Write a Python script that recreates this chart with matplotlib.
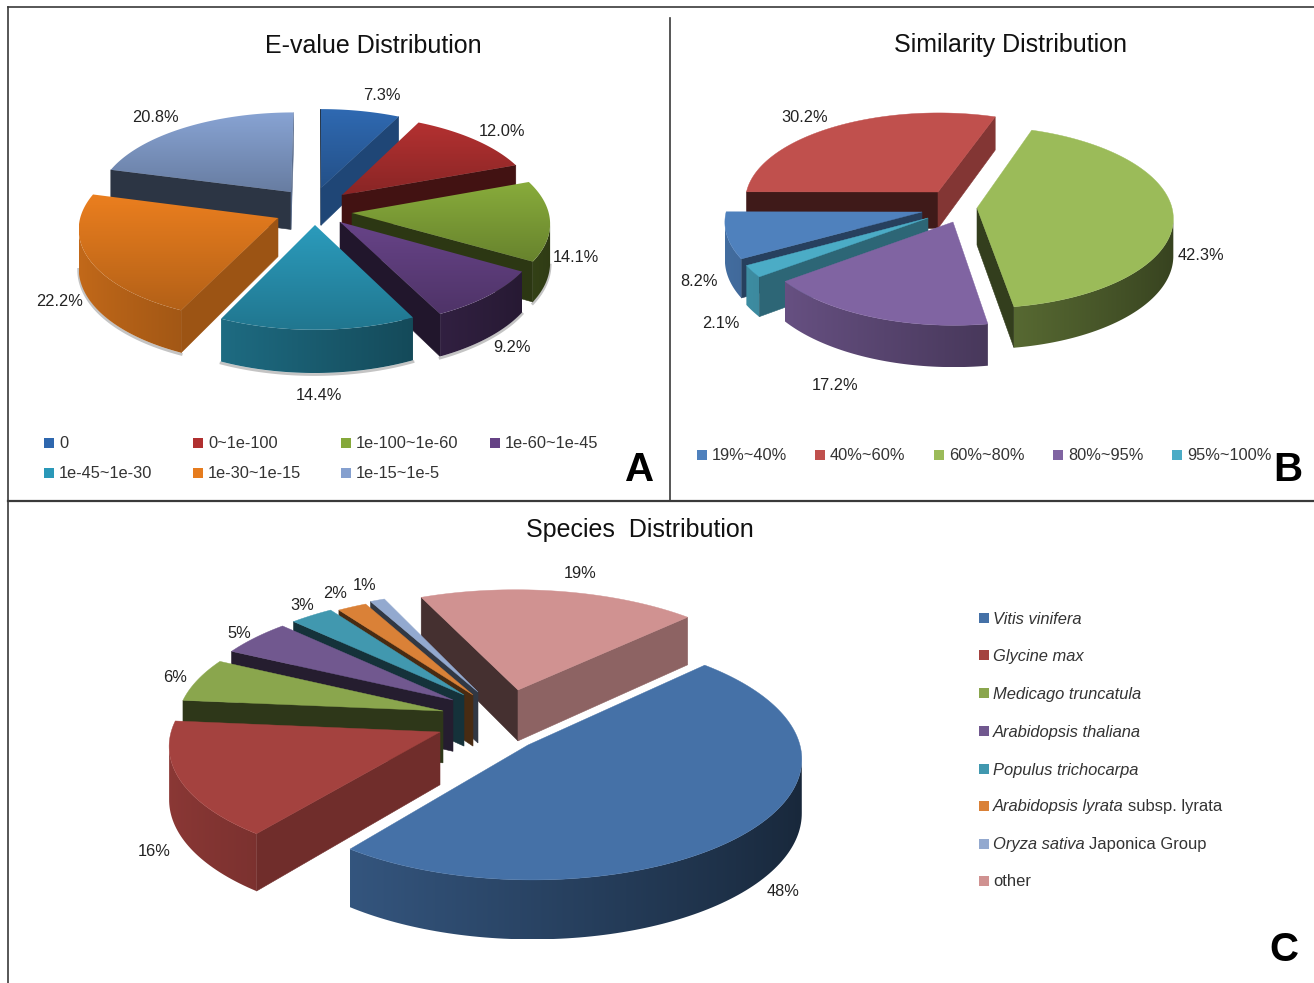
import numpy as np
import matplotlib
matplotlib.use("Agg")
import matplotlib.pyplot as plt
from matplotlib.colors import LinearSegmentedColormap, to_rgb
from matplotlib.patches import Polygon, Rectangle

plt.rcParams['font.family'] = ['Liberation Sans', 'DejaVu Sans']

# panel A
evalue_labels = ["0", "0~1e-100", "1e-100~1e-60", "1e-60~1e-45", "1e-45~1e-30", "1e-30~1e-15", "1e-15~1e-5"]
evalue_pct = [7.3, 12.0, 14.1, 9.2, 14.4, 22.2, 20.8]
evalue_colors = ["#2E67AE", "#B03030", "#85A83A", "#654285", "#2A98B8", "#E67C1E", "#85A0CF"]

# panel B
sim_labels = ["19%~40%", "40%~60%", "60%~80%", "80%~95%", "95%~100%"]
sim_pct = [8.2, 30.2, 42.3, 17.2, 2.1]
sim_colors = ["#4F81BD", "#C0504D", "#9BBB59", "#8064A2", "#4BACC6"]

# panel C
species_italic = ["Vitis vinifera", "Glycine max", "Medicago truncatula", "Arabidopsis thaliana",
                  "Populus trichocarpa", "Arabidopsis lyrata", "Oryza sativa", ""]
species_plain = ["", "", "", "", "", " subsp. lyrata", " Japonica Group", "other"]
species_pct = [48, 16, 6, 5, 3, 2, 1, 19]
species_colors = ["#4571A7", "#A4423F", "#8AA64D", "#71588F", "#4198AF", "#DA8137", "#93A9CF", "#D09291"]

# layout: how far each slice is pulled out, and where its label sits
offs_a = [(2, -17), (23, -10), (33, 8), (21, 17), (-4, 20), (-41, 13), (-28, -13)]
offs_b = [(-23, 4), (-7, -16), (32, 0), (8, 14), (-17, 10)]
offs_c = [(38, 30), (-50, 17), (-47, -4), (-37, -15), (-26, -20), (-17, -20), (-12, -23), (28, -25)]
pct_pos_a = [(382, 94), (502, 131), (576, 256), (512, 347), (319, 394), (60, 300), (155, 117)]
pct_pos_b = [(699, 281), (805, 116), (1201, 255), (835, 385), (721, 323)]
pct_pos_c = [(783, 891), (154, 851), (175, 677), (239, 633), (302, 605), (335, 593), (365, 584), (580, 573)]

fig = plt.figure(figsize=(13.14, 9.83), dpi=100)
ax = fig.add_axes([0, 0, 1, 1])
ax.set_xlim(0, 1314)
ax.set_ylim(983, 0)
ax.axis('off')
ax.set_autoscale_on(False)


def pie3d(pct, colors, offs, cx, cy, rx, ry, p, depth, start, gradient=False, shadow=False):
    def proj(u, v):
        s = 1 / (1 + p * v)
        return cx + rx * u * s, cy - ry * v * s, depth * s

    edges = start + np.cumsum([0] + list(pct)) / sum(pct) * 360
    mids = (edges[:-1] + edges[1:]) / 2
    order = np.argsort(-np.cos(np.radians(mids)))
    z = 2
    for i in order:
        base = np.array(to_rgb(colors[i]))
        dx, dy = offs[i]
        v0 = -dy / (ry + p * dy)
        u0 = dx * (1 + p * v0) / rx
        th = np.radians(np.linspace(edges[i], edges[i + 1], max(int(pct[i] * 3), 4) + 1))
        xr, yr, dr = proj(u0 + np.sin(th), v0 + np.cos(th))
        xa, ya, da = proj(u0, v0)

        # the two cut faces; each is only seen if it faces down the screen
        for k, sign in ((0, -1), (-1, 1)):
            if sign * (xr[k] - xa) > 0:
                nx = sign * np.cos(th[k])
                f = 0.33 + 0.35 * np.clip((nx - 0.3) / 0.4, 0, 1)
                ax.fill([xa, xr[k], xr[k], xa], [ya, yr[k], yr[k] + dr[k], ya + da],
                        color=base * f, lw=0.4, zorder=z)
        z += 1

        # rim: the part running right to left is the part facing us, darker to the right
        vis = np.nonzero(xr[1:] < xr[:-1])[0]
        if len(vis):
            a, b = vis[0], vis[-1] + 1
            xt, yt, dt, tt = xr[a:b + 1], yr[a:b + 1], dr[a:b + 1], th[a:b + 1]
            poly = np.r_[np.c_[xt, yt], np.c_[xt, yt + dt][::-1]]
            grid = np.linspace(xt.min(), xt.max(), 200)
            f = np.interp(grid, xt[::-1], (0.6 - 0.25 * np.sin(tt))[::-1])
            rgb = np.clip(base[None, None, :] * f[None, :, None], 0, 1)
            im = ax.imshow(rgb, extent=(xt.min(), xt.max(), poly[:, 1].max(), poly[:, 1].min()),
                           aspect='auto', zorder=z)
            im.set_clip_path(Polygon(poly, transform=ax.transData))
            if shadow:
                ax.plot(xt, yt + dt + 1.5, color="#c4c4c4", lw=2, zorder=1)
        z += 1

        xs = np.r_[xa, xr]
        ys = np.r_[ya, yr]
        if gradient:
            cmap = LinearSegmentedColormap.from_list("g", [base * 1.02 / max(1.02 * base.max(), 1), base * 0.78])
            im = ax.imshow(np.linspace(0, 1, 64)[:, None], extent=(xs.min(), xs.max(), ys.max(), ys.min()),
                           cmap=cmap, aspect='auto', zorder=z, vmin=0, vmax=1)
            im.set_clip_path(Polygon(np.c_[xs, ys], transform=ax.transData))
        else:
            ax.fill(xs, ys, color=base, lw=0.3, zorder=z)
        z += 1


pie3d(evalue_pct, evalue_colors, offs_a, 319, 205, 195, 90, 0.1, 38, 0, gradient=True, shadow=True)
pie3d(sim_pct, sim_colors, offs_b, 945, 208, 195, 90, 0.1, 37, 240.6)
pie3d(species_pct, species_colors, offs_c, 490, 715, 265, 115, 0.1, 52, 45)

txt = "#222222"
for v, xy in zip(evalue_pct, pct_pos_a):
    ax.text(xy[0], xy[1] + 1, f"{v:.1f}%", fontsize=11.8, color=txt, ha='center', va='center')
for v, xy in zip(sim_pct, pct_pos_b):
    ax.text(xy[0], xy[1] + 1, f"{v:.1f}%", fontsize=11.8, color=txt, ha='center', va='center')
for v, xy in zip(species_pct, pct_pos_c):
    ax.text(xy[0], xy[1] + 1, f"{v}%", fontsize=11.8, color=txt, ha='center', va='center')

ax.text(373, 46, "E-value Distribution", fontsize=18, color="#111111", ha='center', va='center')
ax.text(1011, 45, "Similarity Distribution", fontsize=18, color="#111111", ha='center', va='center')
ax.text(640, 530, "Species  Distribution", fontsize=18, color="#111111", ha='center', va='center')

for s, x, y in (("A", 640, 470), ("B", 1288, 470), ("C", 1284, 950)):
    ax.text(x, y, s, fontsize=29, fontweight='bold', color="black", ha='center', va='center')


def legend_key(x, y, c):
    ax.add_patch(Rectangle((x, y - 5), 10, 10, facecolor=c, edgecolor='none', zorder=5))


# legend A, four in the first row
xs_a = [44, 193, 341, 490, 44, 193, 341]
for i, lab in enumerate(evalue_labels):
    y = 443 if i < 4 else 473
    legend_key(xs_a[i], y, evalue_colors[i])
    ax.text(xs_a[i] + 15, y + 1, lab, fontsize=11.8, color="#333333", va='center')

# legend B
xs_b = [697, 815, 934, 1053, 1172]
for i, lab in enumerate(sim_labels):
    legend_key(xs_b[i], 455, sim_colors[i])
    ax.text(xs_b[i] + 15, 456, lab, fontsize=11.8, color="#333333", va='center')

# legend C, italic part then plain part
renderer = fig.canvas.get_renderer()
ys_c = [618, 655, 693, 731, 769, 806, 844, 881]
for i in range(len(species_pct)):
    legend_key(979, ys_c[i], species_colors[i])
    x = 993
    if species_italic[i]:
        t = ax.text(x, ys_c[i] + 1, species_italic[i], fontsize=11.9, style='italic', color="#333333", va='center')
        x = t.get_window_extent(renderer).x1
    if species_plain[i]:
        lead = 4 if species_plain[i].startswith(" ") else 0
        ax.text(x + lead, ys_c[i] + 1, species_plain[i].strip(), fontsize=11.9, color="#333333", va='center')

# panel frame
frame = "#3a3a3a"
ax.plot([8, 1314], [7, 7], color=frame, lw=1.2, zorder=10)
ax.plot([8, 8], [7, 983], color=frame, lw=1.2, zorder=10)
ax.plot([8, 1314], [501, 501], color=frame, lw=1.6, zorder=10)
ax.plot([670, 670], [18, 501], color=frame, lw=1.2, zorder=10)

fig.savefig("out.png", dpi=100)
